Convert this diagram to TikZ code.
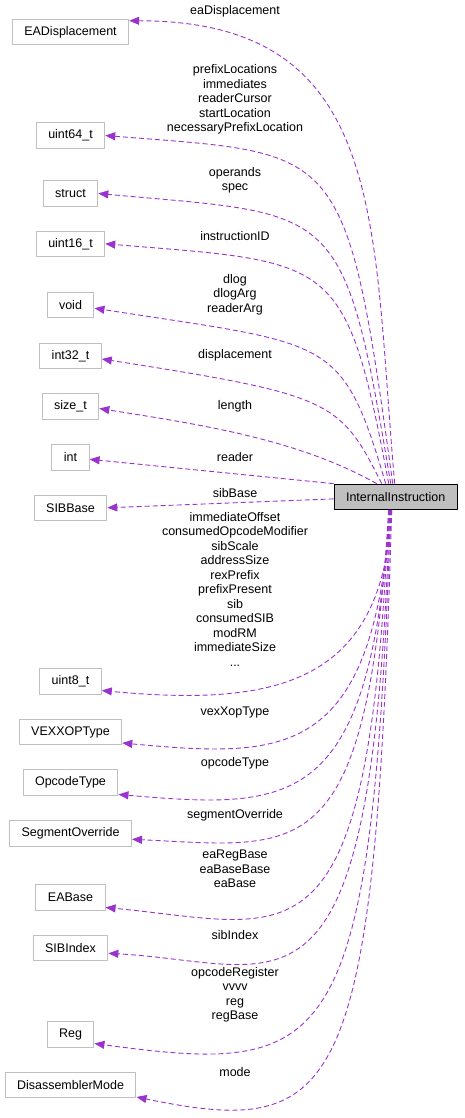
\documentclass[tikz,border=0pt]{standalone}
\usepackage{fontspec}
\setmainfont{Liberation Sans}
\usepackage{tikz}
\usetikzlibrary{arrows.meta,calc}
\definecolor{edgepurple}{HTML}{9A32CD}
\definecolor{boxgray}{HTML}{BFBFBF}
\tikzset{
    every picture/.style={line join=round},
    typebox/.style={draw=boxgray,fill=white,line width=1pt,
      minimum height=25.5pt,inner xsep=12pt,inner ysep=0pt},
    focusbox/.style={typebox,draw=black,fill=boxgray},
    depedge/.style={-{Triangle[length=10pt,width=8pt]},draw=edgepurple,
      line width=0.9pt,dash pattern=on 5pt off 3pt},
    memberlabel/.style={align=center,inner sep=0pt,text=black}
}

\begin{document}
\begin{tikzpicture}[x=1pt,y=1pt,font=\fontsize{12.5}{14.5}\selectfont]
    \useasboundingbox (0,0) rectangle (464,1118);

    % the class itself
    \node[focusbox] (ii) at (395.7,621.1) {InternalInstruction};

    % member types, left column
    \node[typebox] (eadisp) at (70.5,1086.2) {EADisplacement};
    \node[typebox] (uint64) at (70.5,982.5) {uint64\_t};
    \node[typebox] (struct) at (70.5,924.5) {struct};
    \node[typebox] (uint16) at (70.5,874.2) {uint16\_t};
    \node[typebox] (void) at (70.5,812.8) {void};
    \node[typebox] (int32) at (70.5,762) {int32\_t};
    \node[typebox] (sizet) at (70.5,711.5) {size\_t};
    \node[typebox] (int) at (70.5,660.7) {int};
    \node[typebox] (sibbase) at (70.5,610.2) {SIBBase};
    \node[typebox] (uint8) at (70.5,436.5) {uint8\_t};
    \node[typebox] (vexxop) at (70.5,386) {VEXXOPType};
    \node[typebox] (opcodetype) at (70.5,335.5) {OpcodeType};
    \node[typebox] (segover) at (70.5,284.7) {SegmentOverride};
    \node[typebox] (eabase) at (70.5,220.5) {EABase};
    \node[typebox] (sibindex) at (70.5,170.2) {SIBIndex};
    \node[typebox] (reg) at (70.5,83.5) {Reg};
    \node[typebox] (dismode) at (70.5,33) {DisassemblerMode};

    % member names
    \node[memberlabel] (leadisp) at (235,1106.3) {eaDisplacement};
    \node[memberlabel] (luint64) at (235,1018.5) {prefixLocations\\immediates\\readerCursor\\startLocation\\necessaryPrefixLocation};
    \node[memberlabel] (lstruct) at (235,937.6) {operands\\spec};
    \node[memberlabel] (luint16) at (235,882) {instructionID};
    \node[memberlabel] (lvoid) at (235,823.3) {dlog\\dlogArg\\readerArg};
    \node[memberlabel] (lint32) at (235,762.3) {displacement};
    \node[memberlabel] (lsizet) at (235,711.3) {length};
    \node[memberlabel] (lint) at (235,661.3) {reader};
    \node[memberlabel] (lsibbase) at (235,625.3) {sibBase};
    \node[memberlabel] (luint8) at (235,528.8) {immediateOffset\\consumedOpcodeModifier\\sibScale\\addressSize\\rexPrefix\\prefixPresent\\sib\\consumedSIB\\modRM\\immediateSize\\...};
    \node[memberlabel] (lvexxop) at (235,405.3) {vexXopType};
    \node[memberlabel] (lopcodetype) at (235,354.7) {opcodeType};
    \node[memberlabel] (lsegover) at (235,302.3) {segmentOverride};
    \node[memberlabel] (leabase) at (235,249.2) {eaRegBase\\eaBaseBase\\eaBase};
    \node[memberlabel] (lsibindex) at (235,182.7) {sibIndex};
    \node[memberlabel] (lreg) at (235,123.3) {opcodeRegister\\vvvv\\reg\\regBase};
    \node[memberlabel] (ldismode) at (235,46.3) {mode};

    % edges leaving the top
    \draw[depedge] ([xshift=-1pt]ii.north) .. controls +(-23,259) and +(260,0) .. ([yshift=11pt]eadisp.east);
    \draw[depedge] ([xshift=-3pt]ii.north) .. controls +(-47,344) and +(236,-19) .. (uint64.east);
    \draw[depedge] ([xshift=-5pt]ii.north) .. controls +(-47,284) and +(240,-22) .. (struct.east);
    \draw[depedge] ([xshift=-7pt]ii.north) .. controls +(-43,229) and +(230,-19) .. (uint16.east);
    \draw[depedge] ([xshift=-10pt]ii.north) .. controls +(-44,149) and +(237,-37) .. ([yshift=-3pt]void.east);
    \draw[depedge] ([xshift=-14pt]ii.north) .. controls +(-42,84) and +(229,-36) .. ([yshift=-3pt]int32.east);
    \draw[depedge] ([xshift=-19pt]ii.north) .. controls +(-80,45) and +(100,-16) .. ([yshift=-2pt]sizet.east);
    \draw[depedge] (ii.north west) -- ([yshift=-2pt]int.east);
    \draw[depedge] ([yshift=-2pt]ii.west) -- (sibbase.east);

    % edges leaving the bottom
    \draw[depedge] ([xshift=-4pt]ii.south) .. controls +(-9,-171) and +(179,-17) .. ([yshift=-9pt]uint8.east);
    \draw[depedge] ([xshift=-5pt]ii.south) .. controls +(-19,-250) and +(163,-15) .. ([yshift=-11pt]vexxop.east);
    \draw[depedge] ([xshift=-6pt]ii.south) .. controls +(-20,-300) and +(175,-15) .. ([yshift=-12pt]opcodetype.east);
    \draw[depedge] ([xshift=-7pt]ii.south) .. controls +(-22,-360) and +(170,-8) .. ([yshift=-6pt]segover.east);
    \draw[depedge] ([xshift=-7pt]ii.south) .. controls +(-20,-470) and +(190,-18) .. ([yshift=-10pt]eabase.east);
    \draw[depedge] ([xshift=-6pt]ii.south) .. controls +(-18,-540) and +(180,-10) .. ([yshift=-5.5pt]sibindex.east);
    \draw[depedge] ([xshift=-5pt]ii.south) .. controls +(-19,-550) and +(237,-32) .. ([yshift=-9pt]reg.east);
    \draw[depedge] ([xshift=-4pt]ii.south) .. controls +(-17,-590) and +(204,-42) .. ([yshift=-12pt]dismode.east);
\end{tikzpicture}
\end{document}
